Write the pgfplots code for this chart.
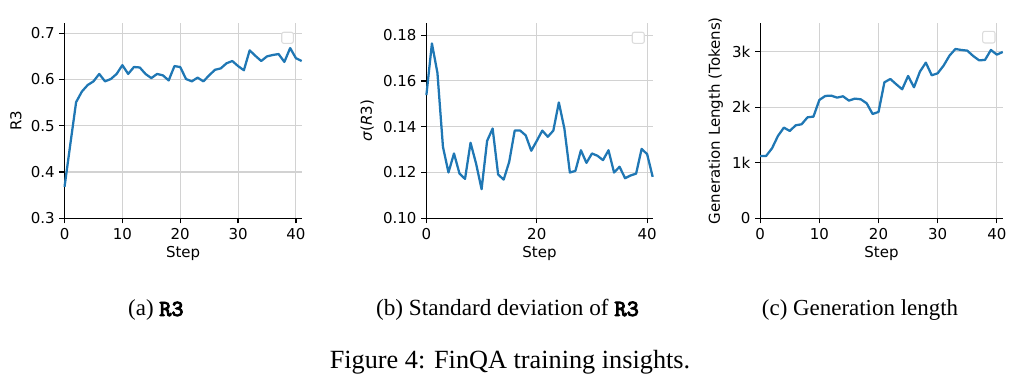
\documentclass[border=0pt]{standalone}
\usepackage{fontspec}
\setmainfont{DejaVu Sans}
\newfontfamily\capfont{Liberation Serif}
\newfontfamily\capmono[FakeBold=4]{lmmono10-regular.otf}
\usepackage{pgfplots}
\pgfplotsset{compat=1.18}
\usepackage{pgfplotstable}
\definecolor{mplblue}{RGB}{31,119,180}
\definecolor{gridgray}{RGB}{210,210,210}
\definecolor{legedge}{RGB}{220,220,220}

\pgfplotstableread{
step r3 sd len
0 0.368 0.1538 1122
1 0.460 0.1764 1122
2 0.551 0.1635 1260
3 0.574 0.1312 1482
4 0.588 0.1200 1632
5 0.596 0.1283 1572
6 0.612 0.1195 1674
7 0.596 0.1172 1692
8 0.601 0.1330 1818
9 0.612 0.1239 1830
10 0.631 0.1127 2130
11 0.612 0.1338 2202
12 0.627 0.1392 2208
13 0.626 0.1191 2172
14 0.612 0.1169 2196
15 0.603 0.1246 2118
16 0.612 0.1383 2154
17 0.609 0.1383 2142
18 0.598 0.1362 2070
19 0.629 0.1295 1878
20 0.627 0.1338 1914
21 0.601 0.1383 2448
22 0.596 0.1356 2508
23 0.604 0.1383 2412
24 0.596 0.1506 2322
25 0.609 0.1392 2562
26 0.621 0.1200 2358
27 0.624 0.1207 2640
28 0.635 0.1297 2802
29 0.640 0.1242 2574
30 0.629 0.1283 2610
31 0.620 0.1273 2748
32 0.663 0.1254 2928
33 0.651 0.1297 3048
34 0.640 0.1200 3030
35 0.650 0.1225 3018
36 0.653 0.1175 2922
37 0.655 0.1187 2844
38 0.638 0.1195 2850
39 0.668 0.1303 3030
40 0.646 0.1280 2946
41 0.640 0.1181 2994
}\datatable

\pgfplotsset{
  mystyle/.style={
    scale only axis,
    height=146.25pt,
    axis x line*=bottom,
    axis y line*=left,
    axis line style={-, line width=0.9pt, black},
    tick align=outside,
    major tick length=3.9pt,
    tick style={line width=0.9pt, black},
    grid=major,
    grid style={line width=0.8pt, gridgray},
    xmin=0, xmax=41,
    ticklabel style={font=\fontsize{11.25}{13}\selectfont},
    label style={font=\fontsize{11.25}{13}\selectfont},
    /pgf/number format/assume math mode=true,
    xlabel={Step},
    xlabel style={yshift=2pt},
    anchor=south west,
    clip=false,
  },
  myline/.style={mplblue, line width=1.7pt, line join=round, no markers},
}

\begin{document}
\begin{tikzpicture}
\useasboundingbox (0,0) rectangle (760.5pt,288pt);

\begin{axis}[mystyle, at={(48.4pt,124.3pt)}, width=177.9pt,
  ymin=0.3, ymax=0.7216,
  xtick={0,10,20,30,40},
  ytick={0.3,0.4,0.5,0.6,0.7},
  yticklabels={0.3,0.4,0.5,0.6,0.7},
  ylabel={R3}]
\addplot[myline] table[x=step, y=r3] {\datatable};
\end{axis}

\begin{axis}[mystyle, at={(319.8pt,124.3pt)}, width=169.7pt,
  ymin=0.10, ymax=0.1852,
  xtick={0,20,40},
  ytick={0.10,0.12,0.14,0.16,0.18},
  yticklabels={0.10,0.12,0.14,0.16,0.18},
  ylabel={\textit{σ}(\textit{R}3)}]
\addplot[myline] table[x=step, y=sd] {\datatable};
\end{axis}

\begin{axis}[mystyle, at={(570.15pt,124.3pt)}, width=181.9pt,
  ymin=0, ymax=3511,
  xtick={0,10,20,30,40},
  ytick={0,1000,2000,3000},
  yticklabels={0,1k,2k,3k},
  ylabel={Generation Length (Tokens)}]
\addplot[myline] table[x=step, y=len] {\datatable};
\end{axis}

% empty legend frames
\draw[legedge, line width=0.8pt, rounded corners=1.5pt, fill=white] (211.3pt,255.5pt) rectangle (220pt,263.8pt);
\draw[legedge, line width=0.8pt, rounded corners=1.5pt, fill=white] (474.2pt,255.5pt) rectangle (483.2pt,263.8pt);
\draw[legedge, line width=0.8pt, rounded corners=1.5pt, fill=white] (737pt,255.75pt) rectangle (746.25pt,264.5pt);

% captions
\node[anchor=base, inner sep=0pt] at (116.9pt,51pt) {\capfont\fontsize{17.2}{19}\selectfont (a) {\capmono R3}};
\node[anchor=base, inner sep=0pt] at (380.6pt,51pt) {\capfont\fontsize{17.4}{19}\selectfont (b) Standard deviation of {\capmono R3}};
\node[anchor=base, inner sep=0pt] at (645pt,51pt) {\capfont\fontsize{17.2}{19}\selectfont (c) Generation length};
\node[anchor=base, inner sep=0pt] at (382.5pt,11.8pt) {\capfont\fontsize{19.7}{22}\selectfont Figure 4: FinQA training insights.};
\end{tikzpicture}
\end{document}
